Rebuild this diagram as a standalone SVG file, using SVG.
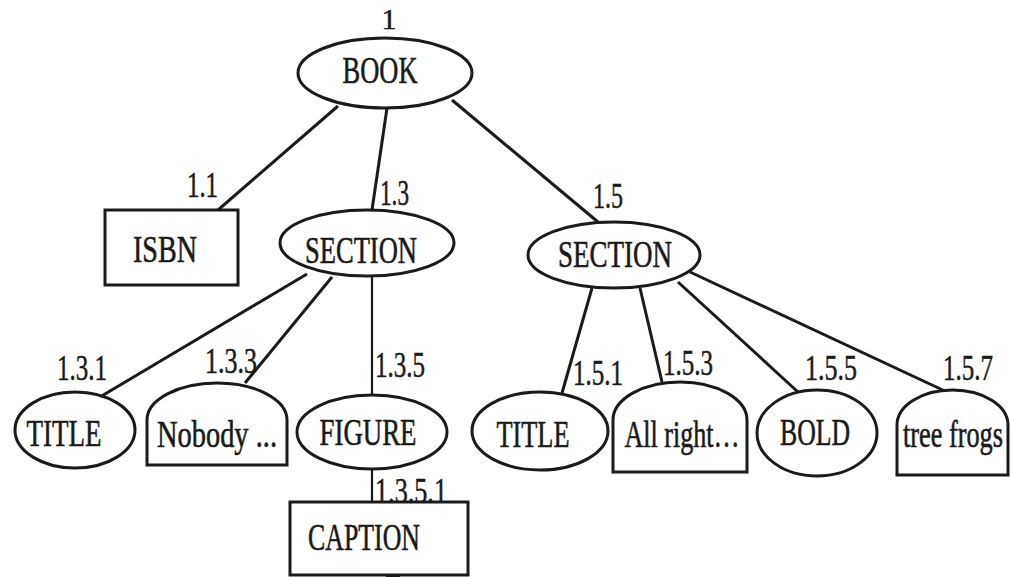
<svg xmlns="http://www.w3.org/2000/svg" width="1011" height="577" viewBox="0 0 1011 577">
<style>
.shape{fill:#fff;stroke:#1a1a1a;stroke-width:3}
.edge{stroke:#1a1a1a;stroke-width:3;fill:none}
.t{font-family:'Liberation Serif','Times New Roman',serif;font-size:38px;fill:#1a1a1a;stroke:#1a1a1a;stroke-width:0.6;text-anchor:middle}
.l{font-family:'Liberation Serif','Times New Roman',serif;font-size:36px;fill:#1a1a1a;stroke:#1a1a1a;stroke-width:0.5;text-anchor:start}
</style>
<rect width="1011" height="577" fill="#fff"/>
<g id="connectors">
<line class="edge" x1="338" y1="106" x2="218" y2="210"/>
<line class="edge" x1="387" y1="108" x2="372" y2="210"/>
<line class="edge" x1="452" y1="100" x2="598" y2="222"/>
<line class="edge" x1="307" y1="274" x2="100" y2="397"/>
<line class="edge" x1="332" y1="277" x2="245" y2="383"/>
<line class="edge" x1="372" y1="277" x2="372" y2="395" style="stroke-width:2.2"/>
<line class="edge" x1="372" y1="470" x2="372" y2="502" style="stroke-width:2.2"/>
<line class="edge" x1="592" y1="288" x2="562" y2="393"/>
<line class="edge" x1="640" y1="288" x2="662" y2="382"/>
<line class="edge" x1="678" y1="282" x2="798" y2="392"/>
<line class="edge" x1="690" y1="272" x2="947" y2="392"/>
<rect x="386" y="573" width="14" height="4" fill="#1a1a1a"/>
</g>
<g id="labels">
<text class="l" x="389" y="29" style="text-anchor:middle;font-size:30px">1</text>
<text class="l" x="187" y="197" textLength="31" lengthAdjust="spacingAndGlyphs">1.1</text>
<text class="l" x="380" y="205" textLength="29" lengthAdjust="spacingAndGlyphs">1.3</text>
<text class="l" x="593" y="208" textLength="30" lengthAdjust="spacingAndGlyphs">1.5</text>
<text class="l" x="57" y="380" textLength="50" lengthAdjust="spacingAndGlyphs">1.3.1</text>
<text class="l" x="205" y="373" textLength="52" lengthAdjust="spacingAndGlyphs">1.3.3</text>
<text class="l" x="375" y="377" textLength="50" lengthAdjust="spacingAndGlyphs">1.3.5</text>
<text class="l" x="375" y="503" textLength="72" lengthAdjust="spacingAndGlyphs">1.3.5.1</text>
<text class="l" x="573" y="385" textLength="50" lengthAdjust="spacingAndGlyphs">1.5.1</text>
<text class="l" x="663" y="375" textLength="50" lengthAdjust="spacingAndGlyphs">1.5.3</text>
<text class="l" x="805" y="380" textLength="52" lengthAdjust="spacingAndGlyphs">1.5.5</text>
<text class="l" x="943" y="380" textLength="50" lengthAdjust="spacingAndGlyphs">1.5.7</text>
</g>
<g id="book">
<ellipse class="shape" cx="385" cy="73" rx="87" ry="35"/>
<text class="t" x="380" y="83" textLength="75" lengthAdjust="spacingAndGlyphs">BOOK</text>
</g>
<g id="isbn">
<rect class="shape" x="105" y="210" width="133" height="75"/>
<text class="t" x="165" y="262" textLength="64" lengthAdjust="spacingAndGlyphs">ISBN</text>
</g>
<g id="section13">
<ellipse class="shape" cx="367" cy="243" rx="87" ry="33"/>
<text class="t" x="361" y="263" textLength="112" lengthAdjust="spacingAndGlyphs">SECTION</text>
</g>
<g id="section15">
<ellipse class="shape" cx="614" cy="255" rx="86" ry="33"/>
<text class="t" x="615" y="267" textLength="114" lengthAdjust="spacingAndGlyphs">SECTION</text>
</g>
<g id="title131">
<ellipse class="shape" cx="75" cy="430" rx="60" ry="38"/>
<text class="t" x="64" y="446" textLength="75" lengthAdjust="spacingAndGlyphs">TITLE</text>
</g>
<g id="nobody">
<path class="shape" d="M147,465 V420 A70,37 0 0 1 287,420 V465 Z"/>
<text class="t" x="217" y="447" textLength="120" lengthAdjust="spacingAndGlyphs">Nobody ...</text>
</g>
<g id="figure">
<ellipse class="shape" cx="372" cy="432" rx="75" ry="37"/>
<text class="t" x="368" y="445" textLength="97" lengthAdjust="spacingAndGlyphs">FIGURE</text>
</g>
<g id="caption">
<rect class="shape" x="290" y="502" width="178" height="73"/>
<text class="t" x="364" y="550" textLength="112" lengthAdjust="spacingAndGlyphs">CAPTION</text>
</g>
<g id="title151">
<ellipse class="shape" cx="540" cy="431" rx="68" ry="39"/>
<text class="t" x="533" y="447" textLength="73" lengthAdjust="spacingAndGlyphs">TITLE</text>
</g>
<g id="allright">
<path class="shape" d="M613,472 V420 A67,38 0 0 1 747,420 V472 Z"/>
<text class="t" x="682" y="447" textLength="115" lengthAdjust="spacingAndGlyphs">All right…</text>
</g>
<g id="bold">
<ellipse class="shape" cx="817" cy="433" rx="60" ry="43"/>
<text class="t" x="815" y="445" textLength="70" lengthAdjust="spacingAndGlyphs">BOLD</text>
</g>
<g id="treefrogs">
<path class="shape" d="M897,475 V425 A55.5,35 0 0 1 1008,425 V475 Z"/>
<text class="t" x="953" y="447" textLength="100" lengthAdjust="spacingAndGlyphs">tree frogs</text>
</g>
</svg>
